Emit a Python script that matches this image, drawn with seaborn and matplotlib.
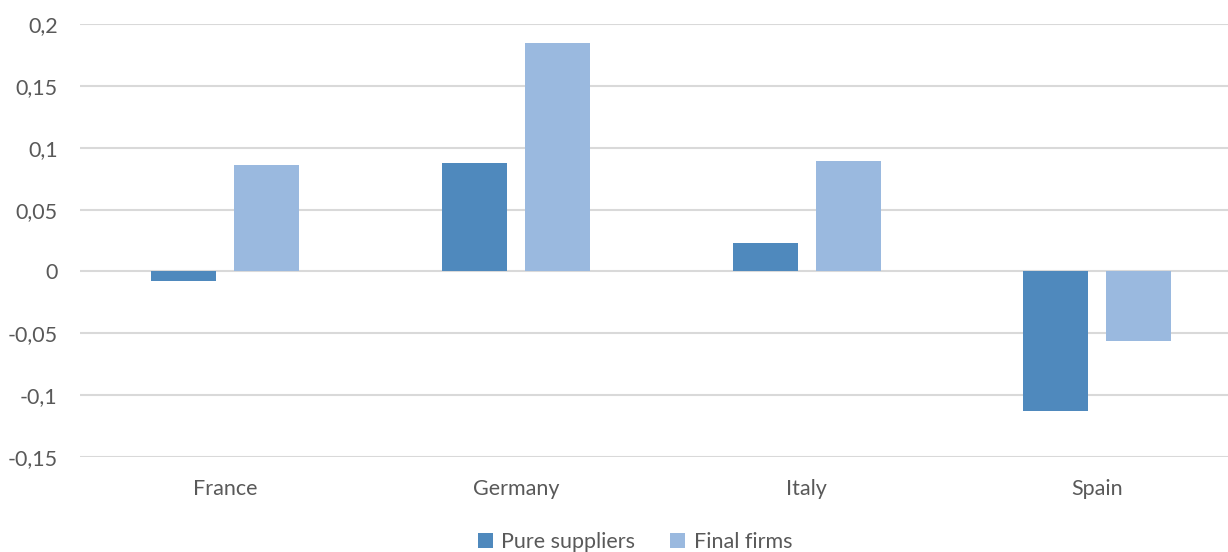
import matplotlib
matplotlib.use("Agg")
import matplotlib.pyplot as plt
import seaborn as sns
import pandas as pd
from matplotlib.ticker import FuncFormatter, MultipleLocator
from matplotlib.patches import Patch

countries = ["France", "Germany", "Italy", "Spain"]
pure_suppliers = [-0.008, 0.088, 0.023, -0.113]
final_firms = [0.086, 0.185, 0.089, -0.056]
series_names = ["Pure suppliers", "Final firms"]
colors = ["#4f89bd", "#9ab9df"]

df = pd.DataFrame({
    "country": countries * 2,
    "value": pure_suppliers + final_firms,
    "series": [series_names[0]] * 4 + [series_names[1]] * 4,
})

sns.set_theme(style="white")
plt.rcParams["font.family"] = ["Lato", "DejaVu Sans"]

fig = plt.figure(figsize=(12.28, 5.52), dpi=100)
ax = fig.add_axes([0.065, 0.172, 0.947, 0.7845])

sns.barplot(data=df, x="country", y="value", hue="series", palette=colors,
            width=0.571, gap=0.215, ax=ax, legend=False, errorbar=None,
            saturation=1, linewidth=0, edgecolor="none")

ax.set_xlim(-0.5, 3.5)
ax.set_ylim(-0.15, 0.2)
ax.yaxis.set_major_locator(MultipleLocator(0.05))
def fmt(v, pos):
    if abs(v) < 1e-9:
        return "0"
    s = f"{v:.2f}".rstrip("0")
    return s.replace(".", ",")
ax.yaxis.set_major_formatter(FuncFormatter(fmt))
ax.grid(axis="y", color="#d9d9d9", linewidth=1.5)
ax.set_axisbelow(True)
for s in ax.spines.values():
    s.set_visible(False)
ax.tick_params(axis="both", length=0, labelsize=15.5, labelcolor="#595959")
ax.tick_params(axis="x", pad=16)
ax.tick_params(axis="y", pad=16)
ax.set_xlabel("")
ax.set_ylabel("")

handles = [Patch(facecolor=c, edgecolor="none") for c in colors]
fig.legend(handles, series_names, loc="lower center", bbox_to_anchor=(0.517, -0.035),
           ncol=2, frameon=False, fontsize=15.5, labelcolor="#595959",
           handlelength=0.7, handleheight=0.7, handletextpad=0.4, columnspacing=1.6)

fig.savefig("out.png", dpi=100)
